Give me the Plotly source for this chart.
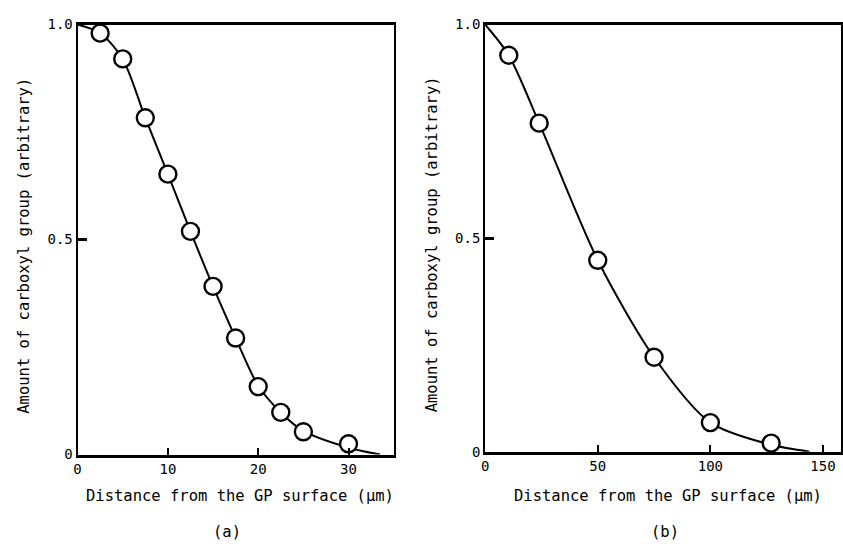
import plotly.graph_objects as go

# Panel (a)
a_x = [2.5, 5, 7.5, 10, 12.5, 15, 17.5, 20, 22.5, 25, 30]
a_y = [0.98, 0.92, 0.783, 0.652, 0.519, 0.391, 0.271, 0.158, 0.098, 0.053, 0.025]
a_curve_x = [0, 2.5, 5, 7.5, 10, 12.5, 15, 17.5, 20, 22.5, 25, 30, 33.5]
a_curve_y = [1.0, 0.98, 0.92, 0.783, 0.652, 0.519, 0.391, 0.271, 0.16, 0.098, 0.055, 0.016, 0.0]

# Panel (b)
b_x = [10.5, 24, 50, 75, 100, 127]
b_y = [0.928, 0.769, 0.448, 0.221, 0.068, 0.02]
b_curve_x = [0, 10.5, 24, 50, 75, 100, 127, 144]
b_curve_y = [1.0, 0.928, 0.769, 0.448, 0.221, 0.068, 0.016, 0.0]

a_xticks = [0, 10, 20, 30]
b_xticks = [0, 50, 100, 150]
y_ticks = [0, 0.5, 1.0]
y_ticklabels = ["0", "0.5", "1.0"]

x_title = "Distance from the GP surface (\u03bcm)"
y_title = "Amount of carboxyl group (arbitrary)"

W, H = 843, 548
FONT = "DejaVu Sans Mono"

def px_x(p):
    return p / W

def px_y(p):
    return (H - p) / H

fig = go.Figure()

line_style = dict(color="black", width=2, shape="spline", smoothing=0.8)
marker_style = dict(symbol="circle", size=17, color="white",
                    line=dict(color="black", width=2.4))

fig.add_trace(go.Scatter(x=a_curve_x, y=a_curve_y, mode="lines", line=line_style,
                         xaxis="x", yaxis="y", showlegend=False, hoverinfo="skip"))
fig.add_trace(go.Scatter(x=a_x, y=a_y, mode="markers", marker=marker_style,
                         xaxis="x", yaxis="y", showlegend=False, cliponaxis=False))
fig.add_trace(go.Scatter(x=b_curve_x, y=b_curve_y, mode="lines", line=line_style,
                         xaxis="x2", yaxis="y2", showlegend=False, hoverinfo="skip"))
fig.add_trace(go.Scatter(x=b_x, y=b_y, mode="markers", marker=marker_style,
                         xaxis="x2", yaxis="y2", showlegend=False, cliponaxis=False))

axis_common = dict(showgrid=False, zeroline=False, showline=True, mirror=True,
                   linecolor="black", ticks="inside", tickcolor="black",
                   tickfont=dict(family=FONT, size=14, color="black"))

fig.update_layout(
    width=W, height=H,
    autosize=False,
    margin=dict(l=0, r=0, t=0, b=0, pad=0),
    paper_bgcolor="white", plot_bgcolor="white",
    font=dict(family=FONT, color="black"),
    xaxis=dict(domain=[px_x(74), px_x(392)], range=[0, 35], tickvals=a_xticks,
               anchor="y", linewidth=2.5, ticklen=7, tickwidth=1.5, **axis_common),
    yaxis=dict(domain=[px_y(460), px_y(17)], range=[0, 1], tickvals=y_ticks,
               ticktext=y_ticklabels, anchor="x", linewidth=2, ticklen=9, tickwidth=2.5,
               **axis_common),
    xaxis2=dict(domain=[px_x(484), px_x(842)], range=[0, 158], tickvals=b_xticks,
                anchor="y2", linewidth=2.5, ticklen=7, tickwidth=1.5, **axis_common),
    yaxis2=dict(domain=[px_y(457), px_y(17)], range=[0, 1], tickvals=y_ticks,
                ticktext=y_ticklabels, anchor="x2", linewidth=2, ticklen=9, tickwidth=2.5,
                **axis_common),
)

tfont = dict(family=FONT, size=15.5, color="black")
annots = [
    dict(text=x_title, x=px_x(237), y=px_y(503)),
    dict(text=x_title, x=px_x(668), y=px_y(503)),
    dict(text=y_title, x=px_x(20), y=px_y(245), textangle=-90),
    dict(text=y_title, x=px_x(430), y=px_y(243), textangle=-90),
    dict(text="(a)", x=px_x(224), y=px_y(540)),
    dict(text="(b)", x=px_x(665), y=px_y(540)),
]
for a in annots:
    fig.add_annotation(xref="paper", yref="paper", showarrow=False,
                       xanchor="center", yanchor="middle", font=tfont, **a)

fig.write_html("out.html", config={"displayModeBar": False, "responsive": False},
               post_script="document.body.style.margin='0';document.body.style.overflow='hidden';")
